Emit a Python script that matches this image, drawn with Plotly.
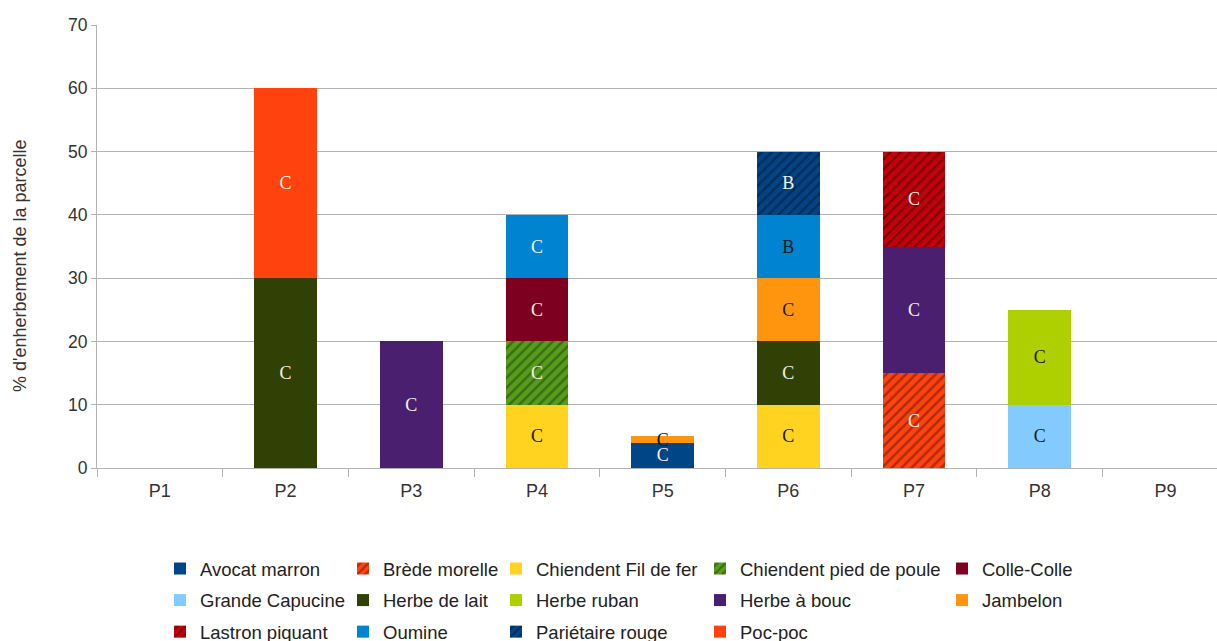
import plotly.graph_objects as go

categories = ["P1", "P2", "P3", "P4", "P5", "P6", "P7", "P8", "P9"]

species = ["Avocat marron", "Brède morelle", "Chiendent Fil de fer", "Chiendent pied de poule",
           "Colle-Colle", "Grande Capucine", "Herbe de lait", "Herbe ruban", "Herbe à bouc",
           "Jambelon", "Lastron piquant", "Oumine", "Pariétaire rouge", "Poc-poc"]

avocat_marron = [None, None, None, None, 4, None, None, None, None]
brede_morelle = [None, None, None, None, None, None, 15, None, None]
chiendent_fil_de_fer = [None, None, None, 10, None, 10, None, None, None]
chiendent_pied_de_poule = [None, None, None, 10, None, None, None, None, None]
colle_colle = [None, None, None, 10, None, None, None, None, None]
grande_capucine = [None, None, None, None, None, None, None, 10, None]
herbe_de_lait = [None, 30, None, None, None, 10, None, None, None]
herbe_ruban = [None, None, None, None, None, None, None, 15, None]
herbe_a_bouc = [None, None, 20, None, None, None, 20, None, None]
jambelon = [None, None, None, None, 1, 10, None, None, None]
lastron_piquant = [None, None, None, None, None, None, 15, None, None]
oumine = [None, None, None, 10, None, 10, None, None, None]
parietaire_rouge = [None, None, None, None, None, 10, None, None, None]
poc_poc = [None, 30, None, None, None, None, None, None, None]

values = [avocat_marron, brede_morelle, chiendent_fil_de_fer, chiendent_pied_de_poule,
          colle_colle, grande_capucine, herbe_de_lait, herbe_ruban, herbe_a_bouc,
          jambelon, lastron_piquant, oumine, parietaire_rouge, poc_poc]

# Labels (classe) shown inside each segment
label_oumine = ["", "", "", "C", "", "B", "", "", ""]
label_parietaire = ["", "", "", "", "", "B", "", "", ""]

# styles
colors = ["#004586", "#ff420e", "#ffd320", "#579d1c", "#7e0021", "#83caff", "#314004",
          "#aecf00", "#4b1f6f", "#ff950e", "#c5000b", "#0084d1", "#004586", "#ff420e"]
hatch = [None, "#5a1400", None, "#1c3a08", None, None, None, None, None, None,
         "#3a0003", None, "#00142a", None]
LIGHT, DARK = "#f4f0e6", "#1a1a1a"
text_dark = {"Chiendent Fil de fer", "Herbe ruban", "Grande Capucine", "Jambelon"}

legend_x_px = [160, 343, 496, 700, 942]
PLOT_L, PLOT_W, PLOT_T, PLOT_B = 97, 1120, 25, 468
PLOT_H = PLOT_B - PLOT_T

fig = go.Figure()
for i, (name, vals) in enumerate(zip(species, values)):
    if name == "Oumine":
        labels = label_oumine
    elif name == "Pariétaire rouge":
        labels = label_parietaire
    else:
        labels = ["C" if v is not None else "" for v in vals]
    if name == "Oumine":
        tcol = [DARK if l == "B" else LIGHT for l in labels]
    else:
        tcol = [DARK if name in text_dark else LIGHT] * len(vals)
    marker = dict(color=colors[i], line=dict(width=0))
    if hatch[i]:
        marker["pattern"] = dict(shape="/", fgcolor=hatch[i], bgcolor=colors[i],
                                 size=7, solidity=0.35, fillmode="overlay")
    col = i % 5
    fig.add_trace(go.Bar(
        x=categories, y=vals, name=name, marker=marker,
        text=labels, texttemplate="%{text}", textposition="inside",
        insidetextanchor="middle", constraintext="none", textangle=0,
        textfont=dict(family="Liberation Serif", size=18, color=tcol),
        legend="legend" if col == 0 else f"legend{col + 1}",
        legendgroup=name, showlegend=True,
    ))

layout_legends = {}
for c in range(5):
    key = "legend" if c == 0 else f"legend{c + 1}"
    layout_legends[key] = dict(
        x=(legend_x_px[c] - PLOT_L) / PLOT_W, xanchor="left",
        y=-(550 - PLOT_B) / PLOT_H, yanchor="top", orientation="v",
        font=dict(family="Liberation Sans", size=18.5, color="#222222"),
        bgcolor="rgba(0,0,0,0)", tracegroupgap=4.5, itemclick=False,
    )

fig.update_layout(
    width=1217, height=641,
    margin=dict(l=PLOT_L, r=0, t=PLOT_T, b=641 - PLOT_B, autoexpand=False),
    paper_bgcolor="white", plot_bgcolor="white",
    barmode="stack", bargap=0.5,
    font=dict(family="Liberation Sans", size=17, color="#333333"),
    xaxis=dict(range=[-0.5, 8.41], showline=True, linecolor="#b3b3b3", linewidth=1,
               ticks="outside", tickson="boundaries", ticklen=8, tickcolor="#b3b3b3",
               showgrid=False, ticklabelstandoff=6, automargin=False,
               tickfont=dict(family="Liberation Sans", size=18, color="#333333")),
    yaxis=dict(range=[0, 70], dtick=10, showline=True, linecolor="#b3b3b3", linewidth=1,
               ticks="outside", ticklen=5, tickcolor="#b3b3b3", automargin=False,
               showgrid=True, gridcolor="#b3b3b3", gridwidth=1, zeroline=False,
               tickfont=dict(family="Liberation Sans", size=17.5, color="#333333")),
    annotations=[dict(text="% d'enherbement de la parcelle", textangle=-90,
                      xref="paper", yref="paper", x=(20 - PLOT_L) / PLOT_W,
                      y=(PLOT_B - 266) / PLOT_H,
                      xanchor="center", yanchor="middle", showarrow=False,
                      font=dict(family="Liberation Sans", size=18, color="#333333"))],
    **layout_legends,
)

fig.write_html("out.html", config={"displayModeBar": False},
               post_script="document.body.style.margin='0';document.body.style.overflow='hidden';")
